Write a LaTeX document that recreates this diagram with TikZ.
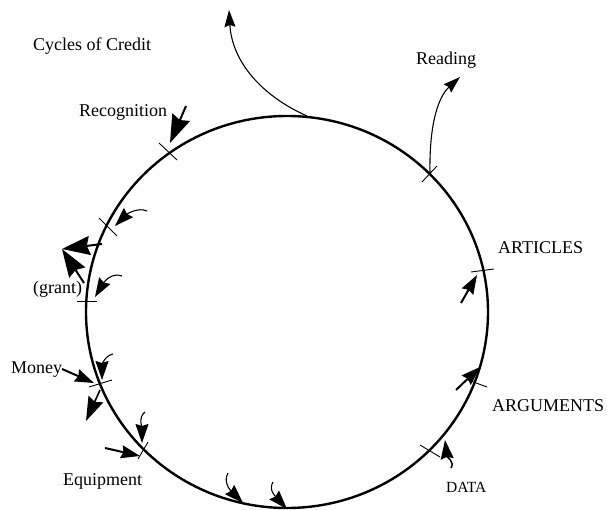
\documentclass[tikz,border=0pt]{standalone}
\usepackage{fontspec}
\setmainfont{Liberation Serif}
\usetikzlibrary{arrows.meta,shapes.geometric}
\tikzset{
  cyc/.style={draw, ellipse, line width=2.4pt, inner sep=0pt, minimum width=402pt, minimum height=392pt},
  tickln/.style={line width=0.9pt},
  lbl/.style={anchor=base west, inner sep=0pt, font=\fontsize{18}{20}\selectfont},
  smlbl/.style={anchor=base west, inner sep=0pt, font=\fontsize{15.5}{18}\selectfont},
  thinarr/.style={line width=1.1pt, -{Stealth[length=19pt,width=13pt,inset=2pt]}},
  thkarr/.style={line width=2pt, -{Stealth[length=19pt,width=13pt,inset=2pt]}},
  bigarr/.style={line width=2pt, -{Stealth[length=28pt,width=19pt,inset=3pt]}},
}
\begin{document}
\begin{tikzpicture}[x=1pt,y=-1pt]
\useasboundingbox (0,0) rectangle (607,510);
\node[cyc] (circ) at (287,312) {};
% labels
\node[lbl] (title) at (33,51) {Cycles of Credit};
\node[lbl] (recog) at (79,117) {Recognition};
\node[lbl] (read) at (416,65) {Reading};
\node[lbl] (art) at (498,254) {ARTICLES};
\node[lbl] (arg) at (492,411) {ARGUMENTS};
\node[smlbl] (data) at (446,492) {DATA};
\node[lbl] (grant) at (33,294) {(grant)};
\node[lbl] (money) at (11,373) {Money};
\node[lbl] (equip) at (63,485) {Equipment};
% ticks
\coordinate (tR1) at (159,143); \coordinate (tR2) at (177,160);
\coordinate (tD1) at (422,182); \coordinate (tD2) at (437,166);
\coordinate (tA1) at (471,272); \coordinate (tA2) at (494,269);
\coordinate (tG1) at (468,380); \coordinate (tG2) at (487,387);
\coordinate (tT1) at (420,445); \coordinate (tT2) at (440,457);
\coordinate (tU1) at (99,218);  \coordinate (tU2) at (117,236);
\coordinate (tN1) at (77,301);  \coordinate (tN2) at (97,301);
\coordinate (tM1) at (89,387);  \coordinate (tM2) at (112,380);
\coordinate (tE1) at (138,459); \coordinate (tE2) at (148,442);
\foreach \a/\b in {tR1/tR2,tD1/tD2,tA1/tA2,tG1/tG2,tT1/tT2,tU1/tU2,tN1/tN2,tM1/tM2,tE1/tE2}
  \draw[tickln] (\a) -- (\b);
% arrow end points
\coordinate (recT) at (186,106); \coordinate (recH) at (170,143);
\coordinate (topS) at (307,116); \coordinate (topH) at (229,10);
\coordinate (redS) at (430,174); \coordinate (redH) at (460,77);
\coordinate (artT) at (461,303); \coordinate (artH) at (477,275);
\coordinate (argT) at (456,390); \coordinate (argH) at (480,367);
\coordinate (datT) at (451,468); \coordinate (datH) at (445,440);
\coordinate (ulT) at (147,211);  \coordinate (ulH) at (115,226);
\coordinate (bigH) at (62,249);  \coordinate (bigT1) at (102,244); \coordinate (bigT2) at (84,283);
\coordinate (grT) at (122,276);  \coordinate (grH) at (95,297);
\coordinate (moT) at (62,369);   \coordinate (moH) at (94,383);
\coordinate (mcT) at (113,354);  \coordinate (mcH) at (102,380);
\coordinate (moOS) at (100,390); \coordinate (moOH) at (86,421);
\coordinate (ecT) at (145,412);  \coordinate (ecH) at (142,443);
\coordinate (eqT) at (105,448);  \coordinate (eqH) at (140,456);
\coordinate (b1T) at (228,473);  \coordinate (b1H) at (243,503);
\coordinate (b2T) at (273,482);  \coordinate (b2H) at (287,509);
% arrows
\draw[bigarr] (recT) -- (recH);
\draw[thinarr, -{Stealth[length=17pt,width=11pt,inset=2pt]}] (topS) .. controls (262,96) and (232,62) .. (topH);
\draw[thinarr, -{Stealth[length=17pt,width=11pt,inset=2pt]}] (redS) .. controls (429,125) and (438,97) .. (redH);
\draw[thkarr] (artT) -- (artH);
\draw[thkarr] (argT) -- (argH);
\draw[thinarr, line width=1.5pt] (datT) .. controls (455,462) and (447,457) .. (datH);
\draw[thinarr] (ulT) .. controls (138,207) and (127,214) .. (ulH);
\draw[bigarr] (bigT1) -- (bigH);
\draw[bigarr] (bigT2) -- (bigH);
\draw[thinarr] (grT) .. controls (112,272) and (104,282) .. (grH);
\draw[thkarr] (moT) -- (moH);
\draw[thinarr] (mcT) .. controls (104,356) and (102,366) .. (mcH);
\draw[line width=1.6pt, -{Stealth[length=24pt,width=16pt,inset=3pt]}] (moOS) -- (moOH);
\draw[thinarr] (ecT) .. controls (138,417) and (142,428) .. (ecH);
\draw[thkarr] (eqT) -- (eqH);
\draw[thinarr] (b1T) .. controls (223,482) and (230,490) .. (b1H);
\draw[thinarr] (b2T) .. controls (268,490) and (276,497) .. (b2H);
\end{tikzpicture}
\end{document}
